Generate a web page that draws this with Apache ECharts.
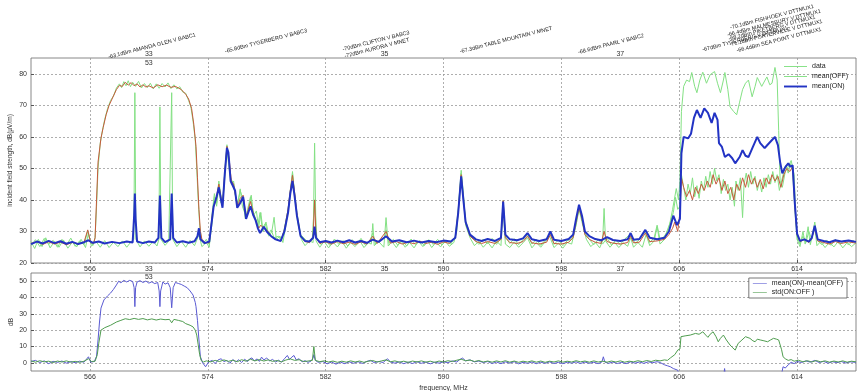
<!DOCTYPE html>
<html><head><meta charset="utf-8">
<script src="https://cdn.jsdelivr.net/npm/echarts@6/dist/echarts.min.js"></script>
<style>html,body{margin:0;padding:0;background:#fff}#c{width:860px;height:391px}</style>
</head><body><div id="c"></div>
<script>
// ---------- data ----------
const freqTicks = [566, 574, 582, 590, 598, 606, 614];
const topLabelValues = [566, 570, 574, 582, 586, 590, 598, 602, 606, 614];
const channelNames = { 570: '33', 586: '35', 602: '37' };
const topYTicks = [20, 30, 40, 50, 60, 70, 80];
const botYTicks = [0, 10, 20, 30, 40, 50];
const stationLabels = [
  [152, 46, '-63.1dBm AMANDA GLEN V BABC1'],
  [266, 41, '-65.8dBm TYGERBERG V BABC3'],
  [376, 41, '-70dBm CLIFTON V BABC3'],
  [377, 48, '-72dBm AURORA V MNET'],
  [506, 40, '-67.3dBm TABLE MOUNTAIN V MNET'],
  [611, 44, '-68.6dBm PAARL V BABC2'],
  [745, 39, '-67dBm TYGERBERG V DTTMUX1'],
  [772, 17, '-70.1dBm FISHHOEK V DTTMUX1'],
  [774, 23, '-66.4dBm MALMESBURY V DTTMUX1'],
  [772, 28, '-68.2dBm PIKETBERG V DTTMUX1'],
  [776, 33, '-71.1dBm PORTERVILLE V DTTMUX1'],
  [779, 40, '-66.4dBm SEA POINT V DTTMUX1']
];

const dataHi = [[562.0,25.5],[562.3,27.4],[562.6,25.2],[562.9,27.8],[563.2,25.9],[563.5,27.2],[563.8,25.0],[564.1,27.5],[564.4,25.6],[564.7,27.9],[565.0,25.3],[565.3,27.0],[565.6,25.8],[565.85,30.2],[566.0,27.0],[566.2,25.6],[566.35,28],[566.45,38],[566.55,50],[566.7,58],[566.85,62],[567.0,65.5],[567.2,69],[567.4,71.5],[567.6,73],[567.8,75.5],[568.0,76.8],[568.15,75.6],[568.3,77.5],[568.45,76.2],[568.6,77.8],[568.75,75.9],[568.9,77.3],[569.1,76],[569.3,77.6],[569.5,75.5],[569.7,76.9],[569.9,75.6],[570.1,77],[570.3,75.2],[570.5,76.8],[570.7,75.4],[570.9,76.9],[571.1,75.8],[571.3,77.1],[571.5,75.3],[571.7,76.5],[571.9,75.2],[572.1,75.9],[572.3,74.2],[572.5,73.8],[572.7,71.5],[572.85,69.5],[573.0,65],[573.15,59],[573.25,50],[573.35,40],[573.45,32],[573.55,28],[573.7,26.2],[573.9,27.5],[574.1,25.8],[574.3,33],[574.45,41],[574.6,39],[574.75,46],[574.9,41],[575.0,38.5],[575.15,49],[575.3,57.5],[575.45,52],[575.55,47],[575.7,45.5],[575.85,42],[576.0,38],[576.2,43],[576.4,40],[576.55,34],[576.7,37],[576.9,41],[577.1,36],[577.25,34],[577.4,32],[577.55,36],[577.7,31],[577.9,32.5],[578.1,29],[578.3,30.5],[578.5,28],[578.8,28.5],[579.0,27],[579.2,31],[579.45,37],[579.6,43],[579.75,48.5],[579.9,42],[580.05,36],[580.3,29],[580.6,27.5],[580.9,26.4],[581.1,28],[581.25,40],[581.4,28],[581.7,25.8],[582.0,27.2],[582.3,25.5],[582.6,27.6],[582.9,25.9],[583.2,27.1],[583.5,25.4],[583.8,27.4],[584.1,25.7],[584.4,27.8],[584.7,25.6],[585.0,27.0],[585.2,29.5],[585.4,26.0],[585.7,27.3],[586.0,28],[586.1,30.5],[586.3,26.2],[586.6,27.5],[586.9,25.6],[587.2,27.2],[587.5,25.4],[587.8,27.6],[588.1,25.8],[588.4,27.1],[588.7,25.5],[589.0,27.4],[589.3,25.9],[589.6,27.5],[589.9,25.7],[590.2,27.2],[590.5,26.0],[590.8,28.5],[591.0,37],[591.2,48.5],[591.35,41],[591.5,33.5],[591.8,29],[592.1,27.5],[592.4,25.9],[592.7,27.6],[593.0,26.1],[593.3,27.8],[593.6,25.9],[593.9,28],[594.05,39.8],[594.2,28.5],[594.5,26.2],[594.8,27.7],[595.1,25.8],[595.4,27.4],[595.7,29],[596.0,26.0],[596.3,27.5],[596.6,25.6],[596.9,27.2],[597.25,29.5],[597.5,25.9],[597.8,27.3],[598.1,25.5],[598.4,27.1],[598.7,27.5],[599.0,32],[599.2,37.5],[599.4,34],[599.6,29.5],[599.9,27.5],[600.2,25.8],[600.5,27.4],[600.8,26.0],[601.1,27.9],[601.4,25.7],[601.7,27.2],[602.0,25.9],[602.3,27.6],[602.7,29.2],[603.0,26.2],[603.3,27.4],[603.7,30],[604.0,26.5],[604.3,28],[604.5,32],[604.7,27.5],[605.0,28.5],[605.3,31],[605.55,37],[605.8,43.6],[605.95,40],[606.05,46],[606.15,68],[606.3,76],[606.5,78],[606.7,77.5],[606.85,80.4],[607.05,76],[607.2,74],[607.4,78],[607.6,80.5],[607.85,77],[608.1,79.7],[608.4,80.7],[608.6,77],[608.8,74],[609.0,78],[609.1,80.4],[609.3,75],[609.45,69.5],[609.7,68],[609.9,67],[610.1,71],[610.3,75],[610.5,77],[610.7,78],[610.95,72.7],[611.15,76],[611.3,78.8],[611.6,76],[611.95,79],[612.15,76.5],[612.3,77],[612.5,82],[612.65,78],[612.75,62],[612.85,46],[613.0,44],[613.2,49],[613.4,50.5],[613.6,52.5],[613.8,48],[613.9,36],[614.0,28.5],[614.2,26],[614.4,28.5],[614.6,26.5],[614.8,30],[615.0,27.5],[615.2,33],[615.4,27],[615.7,25.8],[616.0,27.3],[616.3,25.6],[616.6,27.5],[616.9,25.9],[617.2,27.1],[617.5,25.7],[617.8,27.2],[618.0,26.2]];

const dataLo = [[562.0,26.8],[562.25,24.6],[562.5,27.5],[562.75,25.2],[563.0,28.0],[563.3,24.8],[563.6,26.9],[563.9,25.0],[564.2,27.3],[564.5,24.7],[564.8,26.6],[565.1,25.1],[565.4,27.5],[565.7,24.9],[565.9,29.5],[566.1,25.3],[566.4,26.9],[566.7,25.0],[567.0,27.1],[567.3,24.9],[567.6,26.6],[567.9,25.2],[568.2,27.0],[568.5,25.0],[568.8,26.8],[568.98,27.5],[569.05,74],[569.12,27.5],[569.4,25.1],[569.7,27.0],[570.0,25.3],[570.3,26.9],[570.55,25.4],[570.68,27.5],[570.75,69.5],[570.82,27.5],[571.1,25.6],[571.35,26.9],[571.48,27.5],[571.55,74],[571.62,27.5],[571.9,25.2],[572.2,26.9],[572.5,25.0],[572.8,27.2],[573.1,25.5],[573.4,29],[573.6,25.2],[573.9,26.5],[574.1,25.0],[574.3,36],[574.45,42],[574.6,38],[574.75,45],[574.9,39],[575.05,41],[575.2,50],[575.3,56],[575.45,50],[575.6,45],[575.75,46],[575.9,41],[576.05,39],[576.2,43.5],[576.35,38],[576.5,36],[576.65,35],[576.8,38],[576.95,41.5],[577.1,35],[577.3,36.5],[577.45,31],[577.6,36],[577.75,30],[577.95,33],[578.15,28.5],[578.35,30],[578.5,34.5],[578.65,27.5],[578.9,28.5],[579.1,26.5],[579.3,32],[579.5,38],[579.65,44],[579.75,49],[579.9,41],[580.1,33],[580.35,27.5],[580.6,25.5],[580.9,27],[581.15,26.5],[581.25,58],[581.35,27],[581.6,25],[581.9,26.9],[582.2,24.8],[582.5,26.6],[582.8,25.1],[583.1,27.0],[583.4,24.7],[583.7,26.5],[584.0,25.2],[584.3,27.2],[584.6,24.9],[584.9,26.4],[585.1,26],[585.2,32.5],[585.3,25.5],[585.6,26.8],[585.95,25],[586.1,34.4],[586.25,25.4],[586.5,26.8],[586.8,24.9],[587.1,27.1],[587.4,25.0],[587.7,26.5],[588.0,24.8],[588.3,26.9],[588.6,25.2],[588.9,27.2],[589.2,24.9],[589.5,26.6],[589.8,25.1],[590.1,27.0],[590.4,25.3],[590.7,26.5],[590.9,30],[591.05,40],[591.2,49.4],[591.35,42],[591.5,32],[591.8,28],[592.1,25.5],[592.4,26.9],[592.7,25.0],[593.0,26.6],[593.3,24.8],[593.6,27.0],[593.9,25.5],[594.05,38],[594.2,26],[594.5,24.9],[594.8,26.7],[595.1,25.0],[595.4,26.4],[595.7,28],[596.0,24.8],[596.3,26.5],[596.6,25.0],[596.9,26.8],[597.2,28.5],[597.5,24.9],[597.8,26.3],[598.1,24.7],[598.4,26.5],[598.7,26],[598.95,31],[599.2,37],[599.45,32],[599.7,27.5],[600.0,25.2],[600.3,26.6],[600.6,24.8],[600.8,27],[600.9,37.3],[601.0,27],[601.3,25.0],[601.6,26.6],[601.9,24.9],[602.2,26.4],[602.5,25.3],[602.7,28],[602.9,25],[603.2,26.5],[603.5,25],[603.75,29],[604.0,25.5],[604.3,27],[604.5,31.5],[604.7,26],[605.0,27.5],[605.2,30.5],[605.4,33],[605.6,36],[605.75,40.8],[605.9,37],[606.05,38],[606.15,48],[606.3,44],[606.45,40],[606.6,45],[606.75,42],[606.9,47],[607.05,41],[607.2,44.5],[607.35,40.5],[607.5,46],[607.65,43],[607.8,47.5],[607.95,44],[608.1,49],[608.25,45],[608.4,50],[608.55,46],[608.7,48],[608.85,42],[609.0,46.5],[609.15,43],[609.3,45],[609.45,40],[609.6,44],[609.75,38],[609.85,46],[610.0,43],[610.15,47],[610.3,34.4],[610.4,45],[610.55,48.5],[610.7,44],[610.85,49],[611.0,45],[611.15,47.5],[611.3,43],[611.45,46],[611.6,42.5],[611.75,47],[611.9,44],[612.05,48],[612.2,45],[612.35,49],[612.5,45.5],[612.65,48],[612.8,43],[612.95,46],[613.1,49],[613.25,51],[613.4,48.5],[613.55,51.5],[613.7,49],[613.85,37],[614.0,27.5],[614.2,25.2],[614.4,30],[614.55,26],[614.75,31.5],[614.9,25.8],[615.05,29],[615.2,31],[615.35,25.5],[615.6,26.8],[615.9,24.9],[616.2,26.6],[616.5,25.1],[616.8,26.9],[617.1,24.8],[617.4,26.5],[617.7,25.2],[618.0,26.4]];

const meanOff = [[562.0,26.2],[562.4,26.8],[562.8,25.9],[563.2,26.7],[563.6,26.0],[564.0,26.6],[564.4,25.8],[564.8,26.5],[565.2,26.1],[565.6,26.6],[565.85,30.5],[566.05,26.5],[566.25,26.2],[566.35,28],[566.45,40],[566.55,52],[566.75,59.6],[566.9,63],[567.1,67],[567.3,70],[567.5,72],[567.8,75],[568.0,76.3],[568.2,76],[568.4,77.3],[568.6,76.4],[568.8,77.2],[569.0,76.2],[569.2,76.8],[569.4,75.8],[569.6,76.5],[569.8,75.8],[570.0,76.2],[570.3,75.5],[570.6,76.5],[570.9,75.9],[571.2,76.4],[571.5,75.7],[571.8,76],[572.0,75.5],[572.2,75],[572.5,73.5],[572.7,72],[572.9,69],[573.05,64],[573.2,57],[573.3,47],[573.4,37],[573.5,30],[573.6,27.5],[573.8,26.5],[574.1,26.4],[574.35,37],[574.55,40],[574.75,45],[574.9,40.5],[575.0,38],[575.15,48.5],[575.3,57],[575.45,53],[575.6,46],[575.75,45],[575.9,41],[576.05,38],[576.2,40.5],[576.4,41.5],[576.6,34.5],[576.75,37],[576.9,39.5],[577.1,35.5],[577.25,33.5],[577.45,31],[577.6,32],[577.8,31],[578.0,30.5],[578.3,28.5],[578.6,27.5],[578.95,27],[579.2,30.5],[579.45,37],[579.6,43],[579.75,47.8],[579.9,42],[580.05,35.5],[580.3,28.5],[580.6,26.8],[580.9,26.5],[581.15,28],[581.25,40],[581.35,28],[581.6,26.2],[582.0,26.7],[582.4,26.0],[582.8,26.8],[583.2,26.1],[583.6,26.6],[584.0,25.9],[584.4,26.7],[584.8,26.0],[585.2,28.5],[585.5,26.2],[586.1,30],[586.4,26.3],[586.8,26.8],[587.2,26.0],[587.6,26.6],[588.0,26.1],[588.4,26.9],[588.8,26.2],[589.2,26.6],[589.6,25.9],[590.0,26.7],[590.4,26.2],[590.8,28],[591.0,36],[591.2,48],[591.35,40],[591.5,33],[591.8,28.5],[592.2,26.8],[592.6,26.2],[593.0,26.8],[593.5,26.2],[593.9,27.5],[594.05,39.8],[594.2,28],[594.5,26.5],[595.0,26.2],[595.4,26.8],[595.7,28.5],[596.0,26.4],[596.5,26.0],[597.0,26.6],[597.25,29],[597.5,26.2],[598.0,26.0],[598.5,26.6],[598.8,28],[599.0,33],[599.2,37.5],[599.4,34],[599.6,29],[599.9,27.5],[600.3,26.6],[600.7,26.2],[600.9,30],[601.1,26.8],[601.5,26.3],[602.0,26.0],[602.5,26.5],[602.7,28.5],[602.9,26.4],[603.3,26.6],[603.7,29.5],[604.0,26.8],[604.5,27],[605.0,27.5],[605.3,29],[605.55,31],[605.7,33],[605.9,30],[606.05,36],[606.15,47],[606.3,44],[606.5,41],[606.7,43],[606.9,40],[607.1,44],[607.3,42],[607.5,45],[607.7,43],[607.9,46],[608.1,44],[608.3,48],[608.5,45],[608.7,47],[608.9,43],[609.1,46],[609.3,42],[609.5,44],[609.7,40],[609.9,45],[610.1,43],[610.3,47],[610.5,44],[610.7,48],[610.9,45],[611.1,47],[611.3,44],[611.5,46.5],[611.7,43.5],[611.9,47],[612.1,45],[612.3,48],[612.5,46],[612.7,47.5],[612.9,44],[613.1,48],[613.3,50],[613.5,49],[613.7,50.5],[613.85,38],[614.0,29],[614.2,26.8],[614.5,27.5],[614.8,26.5],[615.0,28],[615.2,31],[615.4,27],[615.8,26.5],[616.2,26.0],[616.6,26.8],[617.0,26.2],[617.5,26.7],[618.0,26.3]];

const meanOn = [[562.0,26.0],[562.4,26.8],[562.8,26.2],[563.2,27.0],[563.6,26.3],[564.0,26.9],[564.4,26.1],[564.8,26.7],[565.2,26.0],[565.6,26.6],[565.9,27.2],[566.2,26.4],[566.6,26.8],[567.0,26.2],[567.5,26.7],[568.0,26.3],[568.5,26.8],[568.9,26.5],[569.0,35],[569.05,42],[569.1,34],[569.2,26.8],[569.6,26.3],[570.0,26.8],[570.4,26.5],[570.65,28],[570.75,41.4],[570.85,28],[571.1,26.6],[571.45,27.5],[571.55,42],[571.65,28],[571.9,26.5],[572.3,26.9],[572.7,26.4],[573.1,26.9],[573.3,28.5],[573.4,31],[573.5,27.5],[573.8,26.3],[574.1,26.8],[574.4,38],[574.6,41],[574.75,44],[574.9,40],[575.0,37.5],[575.15,48],[575.3,56.5],[575.4,55],[575.55,46],[575.7,44.5],[575.85,43],[576.0,37.5],[576.2,39],[576.4,41],[576.6,34],[576.75,36],[576.9,38],[577.1,35],[577.25,33.5],[577.4,31],[577.55,29.5],[577.8,31.5],[578.0,30],[578.3,28.5],[578.6,27.5],[578.95,27],[579.2,30],[579.45,36],[579.6,42],[579.75,46],[579.9,41],[580.05,35],[580.3,28.5],[580.6,27],[580.9,26.8],[581.15,28],[581.25,31.5],[581.35,28],[581.6,26.6],[582.0,27],[582.4,26.5],[582.8,27.1],[583.2,26.6],[583.6,27.2],[584.0,26.5],[584.4,27.0],[584.8,26.4],[585.2,27.4],[585.6,26.7],[586.1,28.5],[586.5,26.8],[587.0,27.2],[587.5,26.6],[588.0,27.1],[588.5,26.5],[589.0,27.0],[589.5,26.6],[590.0,27.1],[590.5,26.8],[590.8,28],[591.0,36],[591.2,47.5],[591.35,40],[591.5,33],[591.8,29],[592.2,27.5],[592.6,27.0],[593.0,27.6],[593.5,27.0],[593.9,28],[594.05,39.5],[594.2,29],[594.5,27.5],[595.0,27.2],[595.4,27.8],[595.7,29.5],[596.0,27.5],[596.5,27.0],[597.0,27.5],[597.25,30],[597.5,27.4],[598.0,27.0],[598.5,27.6],[598.8,29],[599.0,34],[599.2,38.5],[599.4,35],[599.6,30],[599.9,28.5],[600.3,27.6],[600.7,27.2],[601.1,28.2],[601.5,27.3],[602.0,27.0],[602.5,27.5],[602.7,29.5],[602.9,27.4],[603.3,27.6],[603.7,30.5],[604.0,28],[604.5,27.5],[605.0,28],[605.3,30],[605.6,35],[605.85,32],[606.05,34],[606.15,54.8],[606.3,60],[606.6,59.5],[606.8,61],[607.0,66],[607.2,68.5],[607.45,66],[607.7,69],[607.95,67.6],[608.2,64.4],[608.4,67.6],[608.6,65.4],[608.7,58],[608.9,56.8],[609.1,53.6],[609.35,54.5],[609.6,53.2],[609.8,51.6],[610.1,53.6],[610.3,55.8],[610.5,54],[610.7,53.6],[611.0,56.8],[611.3,60],[611.5,58],[611.8,56.4],[612.0,57.5],[612.3,59],[612.5,60],[612.7,57.4],[612.85,52],[613.0,48.4],[613.2,50.4],[613.4,51.6],[613.55,50.5],[613.7,51],[613.85,38.8],[614.0,29.3],[614.2,27],[614.5,27.5],[614.8,26.8],[615.0,28],[615.2,31.8],[615.4,27.5],[615.8,27],[616.2,26.6],[616.6,27.2],[617.0,26.8],[617.5,27.1],[618.0,26.7]];

const diffOnOff = [[562.0,0.8],[562.3,1.5],[562.6,0.2],[562.9,1.2],[563.2,-0.5],[563.5,0.9],[563.8,0.3],[564.1,1.1],[564.4,-0.2],[564.7,0.8],[565.0,0.1],[565.3,1.0],[565.6,0.4],[565.9,3.7],[566.05,0.5],[566.3,0.8],[566.45,4],[566.55,14],[566.65,25],[566.75,33.5],[566.95,38.5],[567.2,41],[567.4,42.7],[567.6,45],[567.8,47.7],[567.95,50],[568.1,49],[568.3,50.5],[568.5,49.5],[568.7,50.5],[568.9,49.8],[569.0,46],[569.05,34.4],[569.1,46],[569.2,49.5],[569.4,50.3],[569.6,49.2],[569.8,50.1],[570.0,48.8],[570.2,49.6],[570.4,48.5],[570.6,49.2],[570.7,44],[570.75,34.4],[570.8,44],[570.95,49.5],[571.1,48.2],[571.3,49],[571.45,46],[571.55,33.7],[571.65,46],[571.8,49.2],[572.0,48.6],[572.2,48],[572.4,47],[572.6,46],[572.8,44],[573.0,41.5],[573.15,37],[573.2,34.4],[573.3,26],[573.4,14],[573.5,3.7],[573.65,0],[573.85,-2.4],[574.05,0.5],[574.3,1.5],[574.5,-0.5],[574.7,1.8],[574.9,2.5],[575.1,0.8],[575.3,1.5],[575.5,-0.3],[575.7,2.0],[575.9,0.5],[576.1,1.9],[576.3,0.2],[576.5,2.2],[576.7,0.8],[576.85,2.5],[577.0,3],[577.15,1.2],[577.35,2.4],[577.5,0.9],[577.65,3.5],[577.8,1.8],[578.0,2.9],[578.2,1.2],[578.4,2.1],[578.6,0.5],[578.8,1.6],[579.0,0.4],[579.2,2.5],[579.4,4.5],[579.55,2],[579.7,3.5],[579.85,4.5],[580.0,1.8],[580.2,2.5],[580.4,0.6],[580.6,1.3],[580.8,0.3],[581.0,1],[581.15,3],[581.2,5],[581.3,1.5],[581.5,0.3],[581.8,0.8],[582.1,-0.6],[582.4,0.5],[582.7,-0.8],[583.0,0.4],[583.3,-0.5],[583.6,0.6],[583.9,-0.3],[584.2,0.7],[584.5,-0.4],[584.8,0.9],[585.05,1.5],[585.3,0.1],[585.6,0.8],[585.9,0.2],[586.2,2.5],[586.4,0.5],[586.7,-0.2],[587.0,0.6],[587.3,-0.5],[587.6,0.4],[587.9,-0.4],[588.2,0.7],[588.5,-0.3],[588.8,0.5],[589.1,-0.6],[589.4,0.4],[589.7,-0.2],[590.0,0.6],[590.3,0.1],[590.6,1.2],[590.9,0.5],[591.1,2],[591.3,2.9],[591.5,1.2],[591.8,1.8],[592.1,0.6],[592.4,1.1],[592.7,0.2],[593.0,0.8],[593.3,-0.4],[593.6,0.5],[593.9,-0.5],[594.2,0.6],[594.5,-0.2],[594.8,0.7],[595.1,-0.6],[595.4,0.3],[595.7,-0.3],[596.0,0.5],[596.3,-0.5],[596.6,0.4],[596.9,-0.3],[597.2,0.6],[597.5,-0.4],[597.8,0.3],[598.1,-0.5],[598.4,0.4],[598.7,-0.2],[599.0,0.6],[599.3,-0.4],[599.6,0.5],[599.9,-0.3],[600.2,0.4],[600.5,-0.5],[600.75,0.5],[600.85,3.7],[600.95,0.5],[601.2,-0.3],[601.5,0.5],[601.8,-0.4],[602.1,0.3],[602.4,-0.5],[602.7,0.6],[603.0,-0.2],[603.3,0.5],[603.6,-0.3],[603.9,0.6],[604.2,0.1],[604.5,0.7],[604.7,0.2],[605.0,-1.2],[605.2,-1.8],[605.4,-2.4],[605.6,-3.5],[605.9,-4.5],[606.0,-4.8],[606.1,-12],[607.0,-14],[608.0,-13],[609.0,-9],[609.08,-3.5],[609.16,-9],[610.0,-10],[611.0,-9],[612.0,-10],[612.9,-9],[613.05,-2.4],[613.2,-3.2],[613.4,-1.2],[613.6,0.3],[613.8,-0.5],[614.0,0.8],[614.3,0.2],[614.6,1.2],[614.9,0.4],[615.2,1.5],[615.5,0.2],[615.8,0.9],[616.1,-0.2],[616.4,0.7],[616.7,0.1],[617.0,0.8],[617.3,-0.1],[617.6,0.6],[618.0,0.3]];

const stdOnOff = [[562.0,1.2],[562.3,0.4],[562.6,1.3],[562.9,0.6],[563.2,1.0],[563.5,0.2],[563.8,1.1],[564.1,0.5],[564.4,1.2],[564.7,0.4],[565.0,0.9],[565.3,0.3],[565.6,1.0],[565.9,2.5],[566.1,0.8],[566.35,1],[566.5,5],[566.6,12],[566.75,20],[567.0,21.5],[567.4,23],[567.8,25],[568.1,26],[568.4,27],[568.7,26.5],[569.0,27.2],[569.3,26.6],[569.6,27.1],[569.9,26.3],[570.2,26.9],[570.5,26.2],[570.8,26.8],[571.1,26.4],[571.4,26.6],[571.55,24.5],[571.7,26.6],[572.0,26],[572.3,25.3],[572.5,24],[572.8,23],[573.0,22],[573.15,20],[573.25,17],[573.35,11],[573.45,5],[573.55,1.5],[573.7,0.5],[573.9,1.2],[574.2,0.6],[574.5,1.5],[574.8,0.8],[575.1,1.8],[575.4,0.9],[575.7,1.6],[576.0,0.7],[576.3,1.9],[576.6,1.0],[576.9,2.2],[577.2,1.2],[577.5,2.0],[577.8,1.1],[578.1,1.8],[578.4,0.9],[578.7,1.4],[579.0,0.6],[579.3,1.7],[579.6,2.4],[579.9,1.5],[580.2,1.9],[580.5,0.8],[580.8,1.1],[581.1,1.5],[581.2,10],[581.3,1.5],[581.6,0.7],[581.9,1.2],[582.2,0.5],[582.5,1.1],[582.8,0.3],[583.1,1.0],[583.4,0.4],[583.7,1.2],[584.0,0.5],[584.3,1.1],[584.6,0.3],[584.9,1.0],[585.2,1.4],[585.5,0.5],[585.8,1.2],[586.1,1.8],[586.4,0.6],[586.7,1.2],[587.0,0.4],[587.3,1.0],[587.6,0.3],[587.9,1.1],[588.2,0.5],[588.5,1.2],[588.8,0.4],[589.1,1.0],[589.4,0.3],[589.7,1.1],[590.0,0.5],[590.3,1.3],[590.6,0.8],[590.9,1.6],[591.2,2.2],[591.5,1.3],[591.8,1.7],[592.1,0.8],[592.4,1.4],[592.7,0.5],[593.0,1.1],[593.3,0.4],[593.6,1.2],[593.9,0.5],[594.2,1.3],[594.5,0.4],[594.8,1.1],[595.1,0.3],[595.4,1.0],[595.7,0.5],[596.0,1.2],[596.3,0.4],[596.6,1.1],[596.9,0.3],[597.2,1.0],[597.5,0.5],[597.8,1.2],[598.1,0.4],[598.4,1.0],[598.7,0.5],[599.0,1.3],[599.3,0.6],[599.6,1.1],[599.9,0.4],[600.2,1.2],[600.5,0.5],[600.8,1.0],[601.1,0.4],[601.4,1.1],[601.7,0.5],[602.0,1.2],[602.3,0.4],[602.6,1.0],[602.9,0.6],[603.2,1.3],[603.5,0.7],[603.8,1.4],[604.1,0.8],[604.4,1.6],[604.7,1.2],[605.0,1.8],[605.2,1.5],[605.4,3],[605.7,5],[605.9,7.8],[606.05,8.5],[606.12,16],[606.4,16.5],[606.75,17],[607.1,18],[607.35,17.5],[607.6,19],[607.8,17],[607.95,15.6],[608.1,17.5],[608.3,19],[608.5,16],[608.65,12.9],[608.8,15],[609.0,17],[609.2,14],[609.45,10.9],[609.6,9.5],[609.8,7.8],[610.0,11.9],[610.2,13.5],[610.5,16],[610.8,15],[611.0,13.5],[611.15,12.9],[611.3,14.5],[611.5,14],[611.75,13.5],[612.0,12.9],[612.2,14],[612.4,15],[612.6,14.5],[612.75,14],[612.85,14.5],[612.95,8],[613.05,3.7],[613.2,2.5],[613.4,1.5],[613.6,2],[613.8,1],[614.1,1.6],[614.4,0.6],[614.7,1.3],[615.0,0.5],[615.3,1.4],[615.6,0.6],[615.9,1.2],[616.2,0.4],[616.5,1.1],[616.8,0.5],[617.1,1.2],[617.4,0.4],[617.7,1.0],[618.0,0.6]];

// ---------- chart ----------
const FONT = 'Liberation Sans';
const chart = echarts.init(document.getElementById('c'), null, { renderer: 'canvas' });
const C_DATA = '#84e184', C_OFF = '#c65a3c', C_ON = '#2233c4', C_DIFF = '#5a5ad2', C_STD = '#4f9d4f';
const ICON_THIN = 'path://M0,0H24V1H0Z';
const ICON_THICK = 'path://M0,0H12V1H0Z';

function xAxisCfg(gi, labels, withName) {
  return {
    type: 'value', gridIndex: gi, min: 562, max: 618,
    axisLine: { show: false },
    axisTick: { show: true, inside: true, length: 3, customValues: freqTicks, lineStyle: { color: '#555' } },
    axisLabel: {
      customValues: labels, fontSize: 7, color: '#333', fontFamily: FONT, margin: 3,
      formatter: v => channelNames[v] || String(v)
    },
    splitLine: { show: true, lineStyle: { color: '#9a9a9a', type: [2, 2], width: 0.8 } },
    name: withName ? 'frequency, MHz' : '', nameLocation: 'middle', nameGap: 14, nameMoveOverlap: false,
    nameTextStyle: { fontSize: 7, color: '#333', fontFamily: FONT }
  };
}
function yAxisCfg(gi, min, max, ticks, name, gap) {
  return {
    type: 'value', gridIndex: gi, min: min, max: max,
    axisLine: { show: false },
    axisTick: { show: true, inside: true, length: 3, customValues: ticks, lineStyle: { color: '#555' } },
    axisLabel: { customValues: ticks, fontSize: 7, color: '#333', fontFamily: FONT, margin: 4 },
    splitLine: { show: true, lineStyle: { color: '#9a9a9a', type: [2, 2], width: 0.8 } },
    name: name, nameLocation: 'middle', nameGap: gap, nameRotate: 90, nameMoveOverlap: false,
    nameTextStyle: { fontSize: 6.5, color: '#333', fontFamily: FONT }
  };
}
function line(name, data, color, width, xi, yi) {
  return {
    type: 'line', name: name, data: data, xAxisIndex: xi, yAxisIndex: yi,
    symbol: 'none', showSymbol: false, clip: true, animation: false,
    lineStyle: { color: color, width: width }, itemStyle: { color: color }
  };
}

const option = {
  animation: false,
  backgroundColor: '#ffffff',
  grid: [
    { left: 31, top: 58, width: 825, height: 205, show: true, containLabel: false, outerBoundsMode: 'none',
      borderColor: '#6a6a6a', borderWidth: 0.8, backgroundColor: '#fff' },
    { left: 31, top: 273, width: 825, height: 98, show: true, containLabel: false, outerBoundsMode: 'none',
      borderColor: '#6a6a6a', borderWidth: 0.8, backgroundColor: '#fff' }
  ],
  xAxis: [xAxisCfg(0, topLabelValues, false), xAxisCfg(1, freqTicks, true)],
  yAxis: [
    yAxisCfg(0, 20, 85, topYTicks, 'incident field strength, dB(\u00b5V/m)', 17),
    yAxisCfg(1, -5, 55, botYTicks, 'dB', 16)
  ],
  legend: [
    {
      left: 784, top: 63, orient: 'vertical', itemWidth: 23, itemHeight: 7, itemGap: 3, padding: 0,
      textStyle: { fontSize: 7, color: '#222', fontFamily: FONT },
      data: [
        { name: 'data', icon: ICON_THIN },
        { name: 'mean(OFF)', icon: ICON_THIN, itemStyle: { color: C_DATA }, lineStyle: { color: C_DATA } },
        { name: 'mean(ON)', icon: ICON_THICK }
      ]
    },
    {
      right: 13, top: 278, orient: 'vertical', itemWidth: 14, itemHeight: 6, itemGap: 2,
      padding: [2, 4, 2, 4], borderColor: '#555', borderWidth: 0.8, backgroundColor: '#fff',
      textStyle: { fontSize: 7, color: '#222', fontFamily: FONT },
      data: [
        { name: 'mean(ON)-mean(OFF)', icon: ICON_THIN },
        { name: 'std(ON:OFF )', icon: ICON_THIN }
      ]
    }
  ],
  series: [
    line('data', dataHi, C_DATA, 1, 0, 0),
    line('data', dataLo, C_DATA, 1, 0, 0),
    line('mean(OFF)', meanOff, C_OFF, 1, 0, 0),
    line('mean(ON)', meanOn, C_ON, 2, 0, 0),
    line('mean(ON)-mean(OFF)', diffOnOff, C_DIFF, 1, 1, 1),
    line('std(ON:OFF )', stdOnOff, C_STD, 1, 1, 1)
  ]
};
chart.setOption(option);

// annotations placed through the axes' own scales
const g = [];
const txt = (x, y, s) => ({
  type: 'text', x: x, y: y, silent: true,
  style: { text: s, fontSize: 7, fontFamily: FONT, fill: '#333', align: 'center', verticalAlign: 'middle' }
});
Object.keys(channelNames).forEach(k => {
  const p0 = chart.convertToPixel({ gridIndex: 0 }, [Number(k), 85]);
  g.push(txt(p0[0], p0[1] - 4, channelNames[k]));
});
const p53a = chart.convertToPixel({ gridIndex: 0 }, [570, 85]);
g.push(txt(p53a[0], p53a[1] + 5, '53'));
const p53b = chart.convertToPixel({ gridIndex: 1 }, [570, 55]);
g.push(txt(p53b[0], p53b[1] + 4, '53'));
stationLabels.forEach(s => {
  g.push({
    type: 'text', x: s[0], y: s[1], rotation: 0.25, silent: true,
    style: { text: s[2], fontSize: 5.5, fontFamily: FONT, fill: '#222', align: 'center', verticalAlign: 'middle' }
  });
});
chart.setOption({ graphic: g });
</script>
</body></html>
